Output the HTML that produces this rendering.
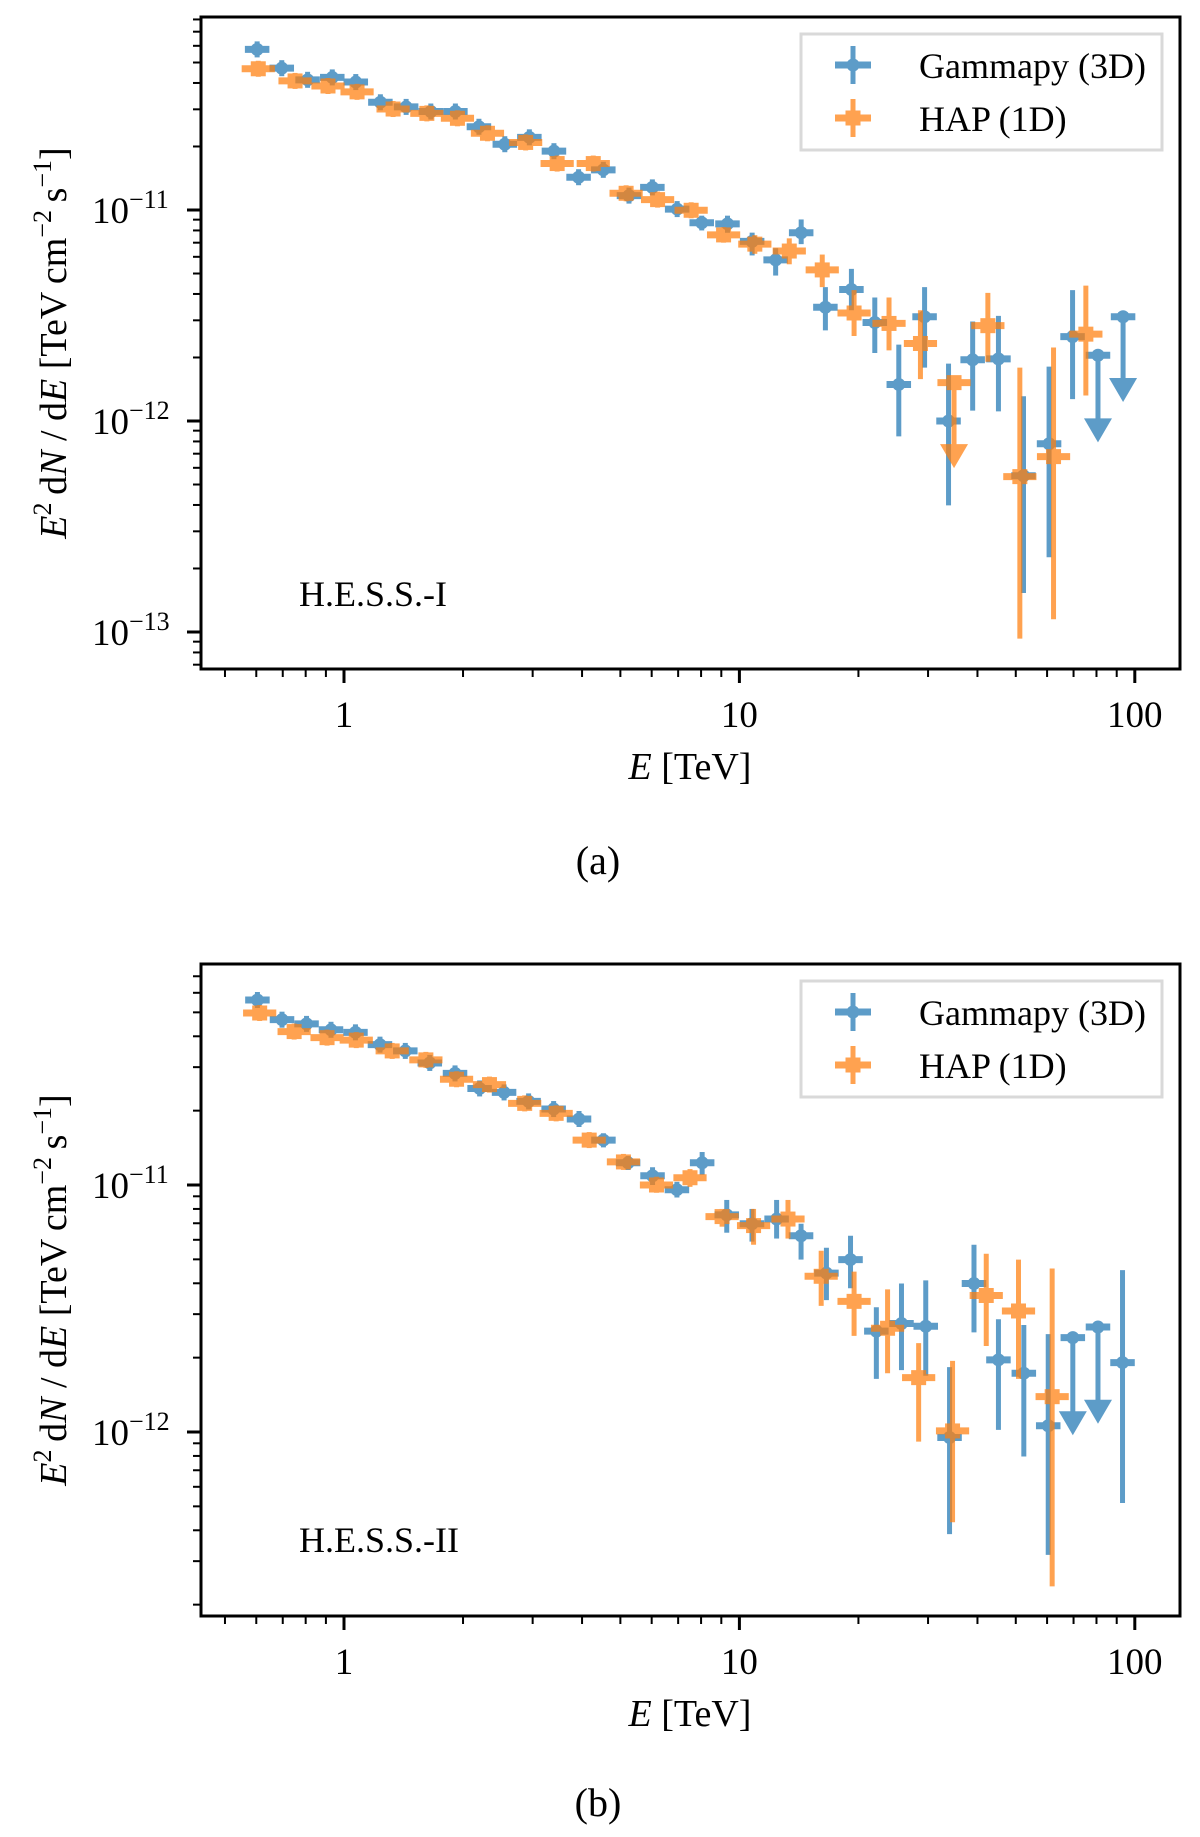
<!DOCTYPE html>
<html><head><meta charset="utf-8">
<style>
html,body{margin:0;padding:0;background:#fff;}
svg{display:block;}
text{font-family:"Liberation Serif","DejaVu Serif",serif;fill:#000;}
</style></head>
<body>
<svg id="fig" width="1200" height="1837" viewBox="0 0 1200 1837" xmlns="http://www.w3.org/2000/svg"></svg>
<script>
// ---------- Panel (a) H.E.S.S.-I data ----------
const aBlueE = [0.603,0.696,0.809,0.934,1.071,1.236,1.436,1.658,1.913,2.194,2.551,2.943,3.396,3.920,4.527,5.257,6.024,6.96,8.03,9.33,10.77,12.35,14.33,16.5,19.2,22.0,25.3,29.4,33.8,38.9,45.2,52.3,60.7,69.6,80.7,93.4];
const aBlueF = [5.77e-11,4.70e-11,4.14e-11,4.25e-11,4.04e-11,3.24e-11,3.08e-11,2.93e-11,2.93e-11,2.48e-11,2.05e-11,2.21e-11,1.90e-11,1.43e-11,1.55e-11,1.17e-11,1.28e-11,1.01e-11,8.7e-12,8.6e-12,7.1e-12,5.8e-12,7.8e-12,3.46e-12,4.2e-12,2.93e-12,1.49e-12,3.12e-12,1.0e-12,1.95e-12,1.97e-12,5.5e-13,7.8e-13,2.51e-12,2.05e-12,3.12e-12];
const aBlueHi = [null,null,null,null,null,null,null,null,null,null,null,null,null,null,null,null,null,null,9.4e-12,9.4e-12,7.81e-12,6.59e-12,9.02e-12,4.31e-12,5.26e-12,3.85e-12,2.30e-12,4.31e-12,1.87e-12,2.96e-12,3.15e-12,1.31e-12,1.81e-12,4.17e-12,null,null];
const aBlueLo = [null,null,null,null,null,null,null,null,null,null,null,null,null,null,null,null,null,null,8.0e-12,7.8e-12,6.09e-12,4.89e-12,6.89e-12,2.69e-12,3.35e-12,2.10e-12,8.45e-13,1.79e-12,3.98e-13,1.12e-12,1.11e-12,1.53e-13,2.26e-13,1.27e-12,7.92e-13,1.23e-12];
const aBlueUL = [0,0,0,0,0,0,0,0,0,0,0,0,0,0,0,0,0,0,0,0,0,0,0,0,0,0,0,0,0,0,0,0,0,0,1,1];

const aOrangeE = [0.607,0.752,0.911,1.079,1.331,1.62,1.936,2.306,2.88,3.46,4.27,5.17,6.21,7.55,9.12,10.94,13.37,16.2,19.5,23.9,28.7,34.9,42.5,51.2,62.3,75.2];
const aOrangeF = [4.67e-11,4.09e-11,3.87e-11,3.63e-11,3.01e-11,2.87e-11,2.72e-11,2.31e-11,2.09e-11,1.66e-11,1.66e-11,1.20e-11,1.12e-11,9.97e-12,7.62e-12,6.89e-12,6.39e-12,5.20e-12,3.25e-12,2.90e-12,2.33e-12,1.52e-12,2.83e-12,5.45e-13,6.78e-13,2.58e-12];
const aOrangeHi = [null,null,null,null,null,null,null,null,null,null,null,null,null,null,8.3e-12,7.6e-12,7.34e-12,6.15e-12,4.17e-12,3.85e-12,3.35e-12,null,4.05e-12,1.79e-12,2.23e-12,4.38e-12];
const aOrangeLo = [null,null,null,null,null,null,null,null,null,null,null,null,null,null,7.0e-12,6.2e-12,5.53e-12,4.31e-12,2.53e-12,2.16e-12,1.58e-12,5.98e-13,1.91e-12,9.3e-14,1.15e-13,1.32e-12];
const aOrangeUL = [0,0,0,0,0,0,0,0,0,0,0,0,0,0,0,0,0,0,0,0,0,1,0,0,0,0];

// ---------- Panel (b) H.E.S.S.-II data ----------
const bBlueE = [0.604,0.697,0.804,0.927,1.069,1.233,1.429,1.648,1.909,2.203,2.54,2.93,3.39,3.93,4.53,5.23,6.03,6.95,8.05,9.29,10.76,12.42,14.32,16.6,19.1,22.2,25.7,29.6,34.0,39.2,45.2,52.4,60.4,69.7,80.7,93.1];
const bBlueF = [5.61e-11,4.67e-11,4.49e-11,4.25e-11,4.15e-11,3.70e-11,3.49e-11,3.12e-11,2.83e-11,2.46e-11,2.37e-11,2.18e-11,2.03e-11,1.85e-11,1.52e-11,1.23e-11,1.09e-11,9.57e-12,1.23e-11,7.57e-12,6.97e-12,7.28e-12,6.23e-12,4.40e-12,4.99e-12,2.56e-12,2.75e-12,2.68e-12,9.5e-13,3.99e-12,1.96e-12,1.73e-12,1.06e-12,2.41e-12,2.66e-12,1.91e-12];
const bBlueHi = [null,null,null,null,null,null,null,null,null,null,null,null,null,null,1.62e-11,1.31e-11,1.18e-11,1.03e-11,1.36e-11,8.7e-12,8.0e-12,8.7e-12,6.97e-12,5.57e-12,6.23e-12,3.20e-12,3.99e-12,4.11e-12,1.83e-12,5.73e-12,2.86e-12,2.71e-12,2.49e-12,null,null,4.52e-12];
const bBlueLo = [null,null,null,null,null,null,null,null,null,null,null,null,null,null,1.42e-11,1.15e-11,1.0e-11,8.9e-12,1.10e-11,6.41e-12,5.90e-12,6.07e-12,4.99e-12,3.42e-12,3.82e-12,1.64e-12,1.78e-12,1.69e-12,3.86e-13,2.53e-12,1.02e-12,7.96e-13,3.18e-13,9.7e-13,1.08e-12,5.16e-13];
const bBlueUL = [0,0,0,0,0,0,0,0,0,0,0,0,0,0,0,0,0,0,0,0,0,0,0,0,0,0,0,0,0,0,0,0,0,1,1,0];

const bOrangeE = [0.612,0.748,0.906,1.074,1.324,1.611,1.926,2.333,2.864,3.44,4.17,5.09,6.17,7.50,9.04,10.86,13.27,16.1,19.5,23.7,28.4,34.6,42.1,50.8,61.8];
const bOrangeF = [4.97e-11,4.18e-11,3.95e-11,3.86e-11,3.49e-11,3.21e-11,2.68e-11,2.55e-11,2.14e-11,1.95e-11,1.52e-11,1.24e-11,1.0e-11,1.07e-11,7.45e-12,6.85e-12,7.28e-12,4.27e-12,3.38e-12,2.63e-12,1.66e-12,1.01e-12,3.57e-12,3.09e-12,1.39e-12];
const bOrangeHi = [null,null,null,null,null,null,null,null,null,null,null,null,1.08e-11,1.16e-11,8.0e-12,8.0e-12,8.7e-12,5.42e-12,4.46e-12,3.78e-12,2.29e-12,1.94e-12,5.27e-12,4.99e-12,4.59e-12];
const bOrangeLo = [null,null,null,null,null,null,null,null,null,null,null,null,9.3e-12,9.83e-12,6.78e-12,5.73e-12,6.07e-12,3.24e-12,2.45e-12,1.73e-12,9.14e-13,4.31e-13,2.23e-12,1.64e-12,2.37e-13];
const bOrangeUL = [0,0,0,0,0,0,0,0,0,0,0,0,0,0,0,0,0,0,0,0,0,0,0,0,0];

const xTickVals = [1,10,100];
const xTickLabels = ["1","10","100"];
const aYTickExp = [-11,-12,-13];
const bYTickExp = [-11,-12];

const NS = "http://www.w3.org/2000/svg";
const svg = document.getElementById('fig');
const BLUE = "#1f77b4", ORANGE = "#ff7f0e";

function mk(tag, attrs, parent) {
  const e = document.createElementNS(NS, tag);
  for (const k in attrs) e.setAttribute(k, attrs[k]);
  (parent || svg).appendChild(e);
  return e;
}

function panel(cfg) {
  const g = mk('g', {});
  
  
  const xs = e => cfg.x1 + Math.log10(e) * cfg.xdec;
  const ys = f => cfg.y11 - (Math.log10(f) + 11) * cfg.ydec;
  const clipId = cfg.name + '-clip';
  const defs = mk('defs', {}, g);
  const cp = mk('clipPath', {id: clipId}, defs);
  mk('rect', {x: cfg.left, y: cfg.top, width: cfg.right - cfg.left, height: cfg.bottom - cfg.top}, cp);

  // x ticks
  const xt = mk('g', {}, g);
  
  
  for (let d = -1; d <= 2; d++) {
    for (let k = 1; k <= 9; k++) {
      const v = k * Math.pow(10, d);
      const x = xs(v);
      if (x < cfg.left || x > cfg.right) continue;
      const major = k === 1;
      mk('line', {x1: x, x2: x, y1: cfg.bottom, y2: cfg.bottom + (major ? 14 : 8), stroke: '#000', 'stroke-width': major ? 3 : 2}, xt);
    }
  }
  xTickVals.forEach((v, i) => {
    const t = mk('text', {x: xs(v), y: cfg.bottom + 58, 'font-size': 37, 'text-anchor': 'middle'}, xt);
    t.textContent = xTickLabels[i];
    
    
  });
  // y ticks
  const yt = mk('g', {}, g);
  
  
  for (let d = -15; d <= -9; d++) {
    for (let k = 1; k <= 9; k++) {
      const v = k * Math.pow(10, d);
      const y = ys(v);
      if (y < cfg.top || y > cfg.bottom) continue;
      const major = k === 1;
      mk('line', {x1: cfg.left, x2: cfg.left - (major ? 14 : 8), y1: y, y2: y, stroke: '#000', 'stroke-width': major ? 3 : 2}, yt);
    }
  }
  cfg.yexp.forEach(ex => {
    const y = ys(Math.pow(10, ex));
    const t = mk('text', {x: 92, y: y + 13, 'font-size': 37}, yt);
    
    
    const a = mk('tspan', {}, t); a.textContent = '10';
    const b = mk('tspan', {dy: -15, 'font-size': 26}, t); b.textContent = '\u2212' + (-ex);
  });

  // series
  function series(E, F, Hi, Lo, UL, col, shape, bins, sname) {
    const sg = mk('g', {'clip-path': 'url(#' + clipId + ')', opacity: 0.72}, g);
    
    
    E.forEach((e, i) => {
      const x = xs(e), y = ys(F[i]);
      const pg = mk('g', {}, sg);
      
      
      const hw = bins * cfg.xdec;
      mk('line', {x1: x - hw, x2: x + hw, y1: y, y2: y, stroke: col, 'stroke-width': 7}, pg);
      if (UL[i]) {
        const tip = ys(Lo[i]);
        mk('line', {x1: x, x2: x, y1: y, y2: tip - 20, stroke: col, 'stroke-width': 5}, pg);
        mk('polygon', {points: (x - 14) + ',' + (tip - 24) + ' ' + (x + 14) + ',' + (tip - 24) + ' ' + x + ',' + tip, fill: col}, pg);
      } else {
        const hi = Hi[i] != null ? ys(Hi[i]) : y - 8;
        const lo = Lo[i] != null ? ys(Lo[i]) : y + 8;
        mk('line', {x1: x, x2: x, y1: hi, y2: lo, stroke: col, 'stroke-width': 5}, pg);
      }
      if (shape === 'circle') mk('circle', {cx: x, cy: y, r: 6.5, fill: col}, pg);
      else mk('rect', {x: x - 7.5, y: y - 7.5, width: 15, height: 15, fill: col}, pg);
    });
  }
  series(cfg.bE, cfg.bF, cfg.bHi, cfg.bLo, cfg.bUL, BLUE, 'circle', 0.031, 'gammapy-3d-series');
  series(cfg.oE, cfg.oF, cfg.oHi, cfg.oLo, cfg.oUL, ORANGE, 'square', 0.042, 'hap-1d-series');

  // frame
  const fr = mk('rect', {x: cfg.left, y: cfg.top, width: cfg.right - cfg.left, height: cfg.bottom - cfg.top, fill: 'none', stroke: '#000', 'stroke-width': 3}, g);
  
  

  // legend
  const lg = mk('g', {}, g);
  
  
  mk('rect', {x: 801, y: cfg.legTop, width: 361, height: 116, fill: '#fff', stroke: '#d9d9d9', 'stroke-width': 3}, lg);
  [[BLUE, 'circle', 'Gammapy (3D)', 31], [ORANGE, 'square', 'HAP (1D)', 84]].forEach(r => {
    const ly = cfg.legTop + r[3];
    const eg = mk('g', {opacity: 0.72}, lg);
    
    
    mk('line', {x1: 835, x2: 871, y1: ly, y2: ly, stroke: r[0], 'stroke-width': 7}, eg);
    mk('line', {x1: 853, x2: 853, y1: ly - 19, y2: ly + 19, stroke: r[0], 'stroke-width': 5}, eg);
    if (r[1] === 'circle') mk('circle', {cx: 853, cy: ly, r: 6.5, fill: r[0]}, eg);
    else mk('rect', {x: 845.5, y: ly - 7.5, width: 15, height: 15, fill: r[0]}, eg);
    const t = mk('text', {x: 919, y: ly + 13, 'font-size': 36}, lg);
    t.textContent = r[2];
    
    
  });

  // annotation
  const an = mk('text', {x: 299, y: cfg.annY, 'font-size': 36}, g);
  an.textContent = cfg.ann;
  
  

  // x label
  const xl = mk('text', {x: 690, y: cfg.bottom + 110, 'font-size': 38, 'text-anchor': 'middle'}, g);
  
  
  const x1 = mk('tspan', {'font-style': 'italic'}, xl); x1.textContent = 'E';
  const x2 = mk('tspan', {}, xl); x2.textContent = ' [TeV]';

  // y label
  const cy = (cfg.top + cfg.bottom) / 2;
  const yl = mk('text', {x: 0, y: 0, 'font-size': 38, 'text-anchor': 'middle', transform: 'translate(66,' + cy + ') rotate(-90)'}, g);
  
  
  const p = [['E', 'italic', 0, 38], ['2', 'normal', -15, 26], ['\u2009d', 'normal', 15, 38], ['N', 'italic', 0, 38], [' / d', 'normal', 0, 38], ['E', 'italic', 0, 38], ['  [TeV\u2009cm', 'normal', 0, 38], ['\u22122', 'normal', -15, 26], ['\u2009s', 'normal', 15, 38], ['\u22121', 'normal', -15, 26], [']', 'normal', 15, 38]];
  p.forEach(s => {
    const ts = mk('tspan', {'font-style': s[1], dy: s[2], 'font-size': s[3]}, yl);
    ts.textContent = s[0];
  });

  // caption
  const cap = mk('text', {x: 598, y: cfg.capY, 'font-size': 40, 'text-anchor': 'middle'}, g);
  cap.textContent = cfg.cap;
  
  
}

panel({name: 'panel-a', left: 201, right: 1180, top: 17, bottom: 669, x1: 344, xdec: 395.4, y11: 210, ydec: 211,
  yexp: aYTickExp, bE: aBlueE, bF: aBlueF, bHi: aBlueHi, bLo: aBlueLo, bUL: aBlueUL,
  oE: aOrangeE, oF: aOrangeF, oHi: aOrangeHi, oLo: aOrangeLo, oUL: aOrangeUL,
  legTop: 34, ann: 'H.E.S.S.-I', annY: 606, cap: '(a)', capY: 874});
panel({name: 'panel-b', left: 201, right: 1180, top: 964, bottom: 1616, x1: 344, xdec: 395.4, y11: 1185, ydec: 247,
  yexp: bYTickExp, bE: bBlueE, bF: bBlueF, bHi: bBlueHi, bLo: bBlueLo, bUL: bBlueUL,
  oE: bOrangeE, oF: bOrangeF, oHi: bOrangeHi, oLo: bOrangeLo, oUL: bOrangeUL,
  legTop: 981, ann: 'H.E.S.S.-II', annY: 1552, cap: '(b)', capY: 1816});
</script>
</body></html>
